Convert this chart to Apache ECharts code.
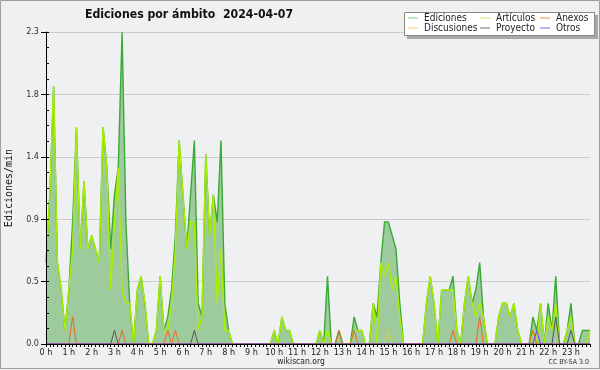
<!DOCTYPE html>
<html><head><meta charset="utf-8">
<script src="https://cdn.jsdelivr.net/npm/echarts@6/dist/echarts.min.js"></script>
<style>html,body{margin:0;padding:0;background:#f0f0f0}#c{width:600px;height:370px}</style>
</head><body><div id="c"></div>
<script>
const titleText = 'Ediciones por ámbito  2024-04-07';
const hourLabels = ['0 h','1 h','2 h','3 h','4 h','5 h','6 h','7 h','8 h','9 h','10 h','11 h',
  '12 h','13 h','14 h','15 h','16 h','17 h','18 h','19 h','20 h','21 h','22 h','23 h'];
const seriesNames = ['Ediciones','Artículos','Anexos','Discusiones','Proyecto','Otros'];
// values in ediciones/min, one per 10 minutes (12 values = 2 hours per row)
const ediciones = [
  0.6,1.1,1.9,0.6,0.4,0.1, 0.4,0.9,1.6,0.7,1.2,0.7,
  0.8,0.7,0.6,1.6,1.3,0.7, 1.1,1.3,2.3,0.9,0.3,0,
  0.4,0.5,0.3,0,0,0.1, 0.5,0.1,0.2,0.4,0.8,1.5,
  1.1,0.7,1.1,1.5,0.3,0.2, 1.4,0.8,1.1,0.9,1.5,0.3,
  0.1,0,0,0,0,0, 0,0,0,0,0,0,
  0.1,0,0.2,0.1,0.1,0, 0,0,0,0,0,0,
  0.1,0,0.5,0,0,0.1, 0,0,0,0.2,0.1,0.1,
  0,0,0.3,0.2,0.6,0.9, 0.9,0.8,0.7,0.3,0,0,
  0,0,0,0,0.3,0.5, 0.3,0,0.4,0.4,0.4,0.5,
  0.1,0,0.3,0.5,0.3,0.4, 0.6,0.2,0,0,0,0.2,
  0.3,0.3,0.2,0.3,0.1,0, 0,0,0.2,0.1,0.3,0,
  0.3,0.1,0.5,0,0,0.1, 0.3,0,0,0.1,0.1,0.1
];
const articulos = [
  0.6,1.1,1.9,0.6,0.4,0.1, 0.4,0.7,1.6,0.7,1.2,0.7,
  0.8,0.7,0.6,1.6,1.3,0.4, 0.9,1.3,0.4,0.3,0.3,0,
  0.4,0.5,0.3,0,0,0.1, 0.5,0.1,0.1,0.3,0.7,1.5,
  1.1,0.7,0.9,0.9,0.1,0.2, 1.4,0.8,1.1,0.3,0.7,0.1,
  0.1,0,0,0,0,0, 0,0,0,0,0,0,
  0.1,0,0.2,0.1,0.1,0, 0,0,0,0,0,0,
  0.1,0,0.1,0,0,0, 0,0,0,0.1,0.1,0.1,
  0,0,0.3,0,0.6,0.5, 0.6,0.4,0.5,0.2,0,0,
  0,0,0,0,0.3,0.5, 0.3,0,0.4,0.4,0.4,0.4,
  0.1,0,0.3,0.5,0.3,0.2, 0.3,0.2,0,0,0,0.2,
  0.3,0.3,0.2,0.3,0.1,0, 0,0,0.1,0,0.3,0,
  0.2,0.1,0.3,0,0,0.1, 0.2,0,0,0,0,0.1
];
const anexos = [
  0,0,0,0,0,0, 0,0.2,0,0,0,0,
  0,0,0,0,0,0, 0,0,0.1,0,0,0,
  0,0,0,0,0,0, 0,0,0.1,0,0.1,0,
  0,0,0,0,0,0, 0,0,0,0,0,0,
  0,0,0,0,0,0, 0,0,0,0,0,0,
  0,0,0,0,0,0, 0,0,0,0,0,0,
  0,0,0,0,0,0.1, 0,0,0,0.1,0,0,
  0,0,0,0,0,0, 0,0,0,0,0,0,
  0,0,0,0,0,0, 0,0,0,0,0,0.1,
  0,0,0,0,0,0, 0.2,0,0,0,0,0,
  0,0,0,0,0,0, 0,0,0.1,0,0,0,
  0,0,0,0,0,0, 0,0,0,0,0,0
];
const discusiones = [
  0,0,0,0,0,0, 0,0,0,0,0,0,
  0,0,0,0,0,0, 0,0,0,0,0,0,
  0,0,0,0,0,0, 0,0,0,0,0,0,
  0,0,0,0,0,0, 0,0,0,0,0,0,
  0,0,0,0,0,0, 0,0,0,0,0,0,
  0,0,0,0,0,0, 0,0,0,0,0,0,
  0,0,0,0,0,0, 0,0,0,0,0,0,
  0,0,0,0,0,0, 0.1,0,0,0,0,0,
  0,0,0,0,0,0, 0,0,0,0,0,0,
  0,0,0,0,0,0, 0,0,0,0,0,0,
  0,0,0,0,0,0, 0,0,0,0,0,0,
  0,0,0,0,0,0, 0,0,0,0,0,0
];
const proyecto = [
  0,0,0,0,0,0, 0,0,0,0,0,0,
  0,0,0,0,0,0, 0.1,0,0,0,0,0,
  0,0,0,0,0,0, 0,0,0,0,0,0,
  0,0,0,0.1,0,0, 0,0,0,0,0,0,
  0,0,0,0,0,0, 0,0,0,0,0,0,
  0,0,0,0,0,0, 0,0,0,0,0,0,
  0,0,0,0,0,0, 0,0,0,0,0,0,
  0,0,0,0,0,0, 0,0,0,0,0,0,
  0,0,0,0,0,0, 0,0,0,0,0,0,
  0,0,0,0,0,0, 0,0,0,0,0,0,
  0,0,0,0,0,0, 0,0,0,0,0,0,
  0,0,0.2,0,0,0, 0.1,0,0,0,0,0
];
const otros = [
  0,0,0,0,0,0, 0,0,0,0,0,0,
  0,0,0,0,0,0, 0,0,0,0,0,0,
  0,0,0,0,0,0, 0,0,0,0,0,0,
  0,0,0,0,0,0, 0,0,0,0,0,0,
  0,0,0,0,0,0, 0,0,0,0,0,0,
  0,0,0,0,0,0, 0,0,0,0,0,0,
  0,0,0,0,0,0, 0,0,0,0,0,0,
  0,0,0,0,0,0, 0,0,0,0,0,0,
  0,0,0,0,0,0, 0,0,0,0,0,0,
  0,0,0,0,0,0, 0,0,0,0,0,0,
  0,0,0,0,0,0, 0,0,0,0.1,0,0,
  0,0,0,0,0,0, 0,0,0,0,0,0
];

const times = [];
for (let h = 0; h < 24; h++) for (let m = 0; m < 60; m += 10)
  times.push(String(h).padStart(2,'0') + ':' + String(m).padStart(2,'0'));

const FONT = 'DejaVu Sans Condensed, DejaVu Sans';
const lineColors = ['#3aaa35','#aaee00','#ee6622','#eecc33','#555555','#8833ee'];
const legendColors = ['#88cc88','#c8ee66','#f08a50','#f5d860','#666666','#9955ee'];
const lg = (names, left) => ({
  left: left, top: 13, orient: 'vertical', itemWidth: 10, itemHeight: 1, itemGap: 0,
  padding: 0, icon: 'rect', selectedMode: false, z: 5,
  textStyle: {fontFamily: FONT, fontSize: 10, color: '#222', lineHeight: 10, padding: [0,0,0,1]},
  data: names.map(n => ({name: n, itemStyle: {color: legendColors[seriesNames.indexOf(n)]}}))
});

const chart = echarts.init(document.getElementById('c'), null, {renderer: 'canvas'});
chart.setOption({
  backgroundColor: '#f0f0f0',
  animation: false,
  title: {text: titleText, left: 80, top: 4,
    textStyle: {fontFamily: FONT, fontWeight: 'bold', fontSize: 12.2, color: '#111'}},
  legend: [lg(['Ediciones','Discusiones'], 408), lg(['Artículos','Proyecto'], 480), lg(['Anexos','Otros'], 540)],
  grid: {left: 46, top: 32, right: 10, bottom: 26, show: true, backgroundColor: '#eef0f2', borderWidth: 0,
    containLabel: false, outerBoundsMode: 'none'},
  xAxis: {
    type: 'category', data: times, boundaryGap: false, z: 10,
    axisLine: {lineStyle: {color: '#000', width: 1}},
    axisTick: {interval: 0, length: 3, lineStyle: {color: '#000'}},
    axisLabel: {interval: 5, margin: 4, fontFamily: FONT, fontSize: 9, color: '#222',
      formatter: (v, i) => hourLabels[Math.round(i / 6)]},
    splitLine: {show: false}
  },
  yAxis: [{
    type: 'value', min: 0, max: 2.3, interval: 0.46, z: 0,
    name: 'Ediciones/min', nameLocation: 'middle', nameGap: 32,
    nameTextStyle: {fontFamily: 'DejaVu Sans Mono', fontSize: 10, color: '#111'},
    axisLine: {show: false},
    axisTick: {show: true, length: 5, lineStyle: {color: '#000'}},
    axisLabel: {margin: 7, fontFamily: FONT, fontSize: 9, color: '#333', formatter: v => v.toFixed(1)},
    splitLine: {show: true, lineStyle: {color: '#cccccc', width: 1}}
  }, {
    type: 'value', min: 0, max: 2.3, interval: 0.115, position: 'left', z: 10,
    axisLine: {show: true, lineStyle: {color: '#000', width: 1}},
    axisTick: {show: true, inside: true, length: 3, lineStyle: {color: '#000'}},
    axisLabel: {show: false}, splitLine: {show: false}
  }],
  series: [
    {name: 'Ediciones', type: 'line', data: ediciones, symbol: 'none', z: 2,
      itemStyle: {color: legendColors[0]}, lineStyle: {color: lineColors[0], width: 1.4},
      areaStyle: {color: '#9ecb9e', opacity: 1}},
    {name: 'Artículos', type: 'line', data: articulos, symbol: 'none', z: 3,
      itemStyle: {color: legendColors[1]}, lineStyle: {color: lineColors[1], width: 1.4}},
    {name: 'Anexos', type: 'line', data: anexos, symbol: 'none', z: 4,
      itemStyle: {color: legendColors[2]}, lineStyle: {color: lineColors[2], width: 1}},
    {name: 'Discusiones', type: 'line', data: discusiones, symbol: 'none', z: 4,
      itemStyle: {color: legendColors[3]}, lineStyle: {color: lineColors[3], width: 1}},
    {name: 'Proyecto', type: 'line', data: proyecto, symbol: 'none', z: 4,
      itemStyle: {color: legendColors[4]}, lineStyle: {color: lineColors[4], width: 1}},
    {name: 'Otros', type: 'line', data: otros, symbol: 'none', z: 4,
      itemStyle: {color: legendColors[5]}, lineStyle: {color: lineColors[5], width: 1}}
  ],
  graphic: [
    {type: 'rect', shape: {x: 0.5, y: 0.5, width: 599, height: 368}, z: 0, silent: true,
      style: {fill: null, stroke: '#a0a0a0', lineWidth: 1}},
    {type: 'rect', shape: {x: 407, y: 15, width: 191, height: 24}, z: 1, silent: true,
      style: {fill: '#a8a8a8'}},
    {type: 'rect', shape: {x: 404.5, y: 12.5, width: 190, height: 23}, z: 1, silent: true,
      style: {fill: '#ffffff', stroke: '#888888', lineWidth: 1}},
    {type: 'text', x: 301, y: 362, z: 2, silent: true,
      style: {text: 'wikiscan.org', fontFamily: FONT, fontSize: 8.5, fill: '#222', align: 'center', verticalAlign: 'middle'}},
    {type: 'text', x: 589, y: 362, z: 2, silent: true,
      style: {text: 'CC BY-SA 3.0', fontFamily: FONT, fontSize: 7, fill: '#333', align: 'right', verticalAlign: 'middle'}}
  ]
});
</script></body></html>
